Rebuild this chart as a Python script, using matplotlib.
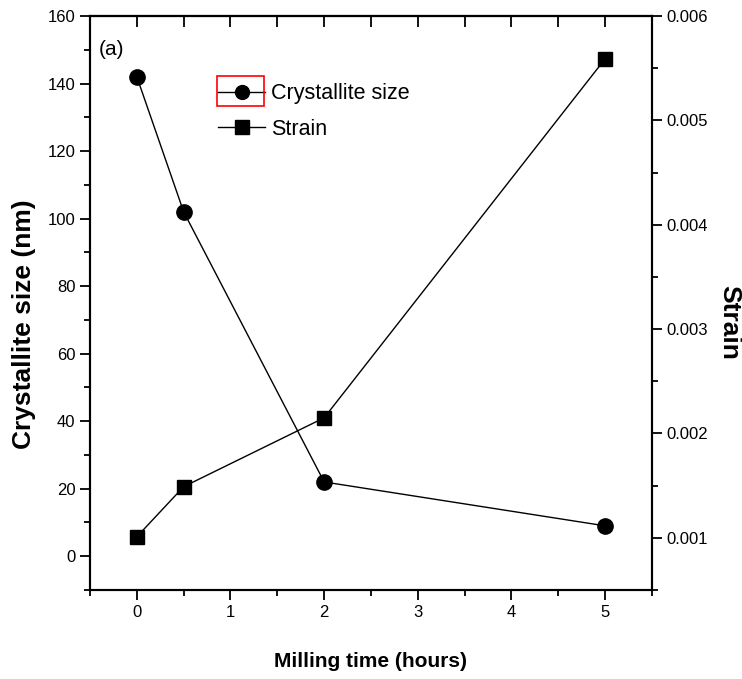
import matplotlib
matplotlib.use("Agg")
import matplotlib.pyplot as plt
from matplotlib.patches import Rectangle
from matplotlib.lines import Line2D
from matplotlib.ticker import MultipleLocator

# data
milling_time = [0, 0.5, 2, 5]
crystallite_size = [142, 102, 22, 9]
strain = [0.00101, 0.00149, 0.00215, 0.00559]

x_ticks = [0, 1, 2, 3, 4, 5]
left_ticks = [0, 20, 40, 60, 80, 100, 120, 140, 160]
right_ticks = [0.001, 0.002, 0.003, 0.004, 0.005, 0.006]

plt.rcParams['font.family'] = ['Liberation Sans', 'DejaVu Sans']

fig = plt.figure(figsize=(7.42, 6.79), dpi=100)
ax = fig.add_axes([90 / 742, 89 / 679, 562 / 742, 574 / 679])
ax2 = ax.twinx()

ax.plot(milling_time, crystallite_size, color='black', lw=1.0, marker='o',
        markersize=11, label='Crystallite size')
ax2.plot(milling_time, strain, color='black', lw=1.0, marker='s',
         markersize=10, label='Strain')

ax.set_xlim(-0.5, 5.5)
ax.set_ylim(-10, 160)
ax2.set_ylim(0.0005, 0.006)

ax.set_xticks(x_ticks)
ax.xaxis.set_minor_locator(MultipleLocator(0.5))
ax.set_yticks(left_ticks)
ax.yaxis.set_minor_locator(MultipleLocator(10))
ax2.set_yticks(right_ticks)
ax2.set_yticklabels([f"{v:.3f}" for v in right_ticks])
ax2.yaxis.set_minor_locator(MultipleLocator(0.0005))

ax.tick_params(axis='both', which='major', direction='out', length=7, width=1.3,
               labelsize=12, top=False)
ax.tick_params(axis='both', which='minor', direction='out', length=4, width=1.3, top=False)
ax2.tick_params(axis='y', which='major', direction='out', length=7, width=1.3, labelsize=12)
ax2.tick_params(axis='y', which='minor', direction='out', length=4, width=1.3)

# top axis: ticks point into the plot, no labels
top = ax.secondary_xaxis('top')
top.set_xticks(x_ticks)
top.xaxis.set_minor_locator(MultipleLocator(0.5))
top.tick_params(which='both', direction='in', length=8, width=1.3, labeltop=False)
top.spines['top'].set_linewidth(1.5)

for a in (ax, ax2):
    for s in a.spines.values():
        s.set_linewidth(1.5)

ax.set_xlabel('Milling time (hours)', fontsize=15, fontweight='bold', labelpad=23)
ax.set_ylabel('Crystallite size (nm)', fontsize=19, fontweight='bold', labelpad=8)
ax2.set_ylabel('Strain', fontsize=19, fontweight='bold', rotation=-90, labelpad=24)
ax.yaxis.label.set_y(0.463)
ax2.yaxis.label.set_y(0.467)

ax.text(0.015, 0.958, '(a)', transform=ax.transAxes, fontsize=15, va='top')

handles = [Line2D([], [], color='black', lw=1.0, marker='o', markersize=10),
           Line2D([], [], color='black', lw=1.0, marker='s', markersize=10)]
leg = ax.legend(handles, ['Crystallite size', 'Strain'], loc='upper left',
                bbox_to_anchor=(203 / 742, 1 - 68 / 679), bbox_transform=fig.transFigure,
                frameon=False, fontsize=15.5, handlelength=2.2, handletextpad=0.28,
                labelspacing=0.68, borderpad=0.2)

fig.patches.append(Rectangle((217 / 742, 1 - 106 / 679), 47 / 742, 30 / 679,
                             transform=fig.transFigure, fill=False,
                             edgecolor='red', lw=1.2))

fig.savefig('out.png', dpi=100)
